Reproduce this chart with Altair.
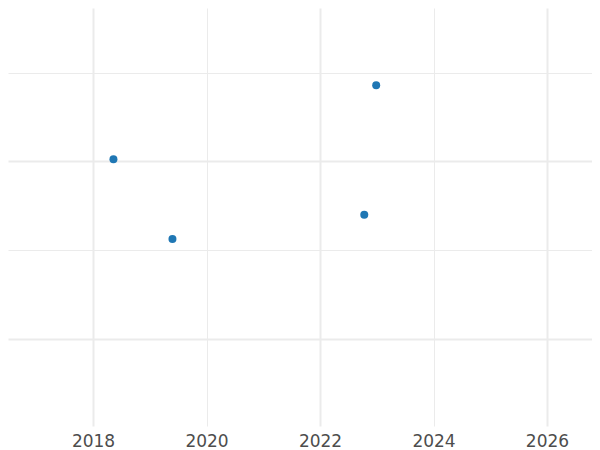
import altair as alt
import pandas as pd

# Data
years = [2018.36, 2019.40, 2022.78, 2022.99]
values = [1.012, 0.562, 0.699, 1.430]

x_ticks = [2018, 2020, 2022, 2024, 2026]
y_grid = [0.0, 0.5, 1.0, 1.5]

df = pd.DataFrame({"year": years, "value": values})

grid_color = "#ebebeb"

chart = (
    alt.Chart(df)
    .mark_circle(size=64, color="#1f77b4", opacity=1)
    .encode(
        x=alt.X(
            "year:Q",
            scale=alt.Scale(domain=[2016.502, 2026.793], nice=False, zero=False),
            axis=alt.Axis(
                title=None,
                values=x_ticks,
                format="d",
                ticks=False,
                domain=False,
                grid=True,
                gridColor=grid_color,
                gridWidth={"condition": {"test": "datum.value % 4 == 2", "value": 2}, "value": 1},
                labelFont="DejaVu Sans",
                labelFontSize=17,
                labelColor="#4d4d4d",
                labelPadding=7,
                labelFlush=False,
            ),
        ),
        y=alt.Y(
            "value:Q",
            scale=alt.Scale(domain=[-0.494, 1.867], nice=False, zero=False),
            axis=alt.Axis(
                title=None,
                values=y_grid,
                labels=False,
                ticks=False,
                domain=False,
                grid=True,
                gridColor=grid_color,
                gridWidth={"condition": {"test": "datum.value % 1 == 0", "value": 2}, "value": 1},
            ),
        ),
    )
    .properties(
        width=584,
        height=418,
        background="white",
        autosize=alt.AutoSizeParams(type="none"),
        padding={"left": 0, "top": 0, "right": 0, "bottom": 26},
    )
    .configure_view(strokeWidth=0, stroke="transparent")
)

chart.save("out.html", embed_options={"renderer": "svg", "actions": False})
